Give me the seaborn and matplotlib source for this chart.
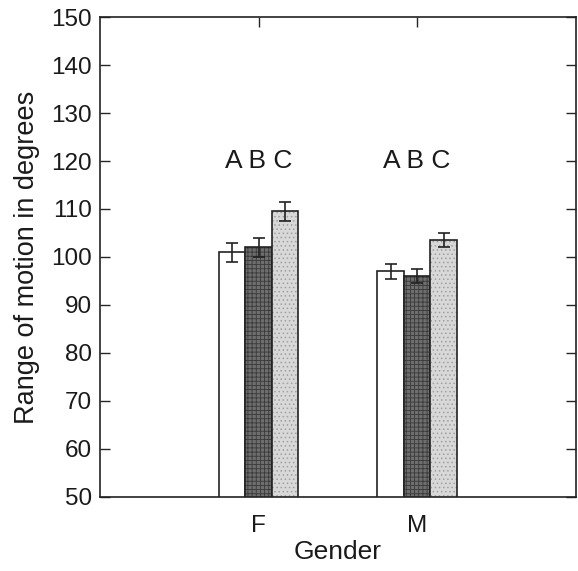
import pandas as pd
import matplotlib
matplotlib.use("Agg")
import matplotlib.pyplot as plt
import seaborn as sns

# ------------------------------
# Data
# ------------------------------
genders = ["F", "M"]
groups = ["A", "B", "C"]
f_means = [101.0, 102.0, 109.5]
m_means = [97.0, 96.0, 103.5]
f_err = [2.0, 2.0, 2.0]
m_err = [1.5, 1.5, 1.5]

df = pd.DataFrame({
    "gender": genders[0:1] * 3 + genders[1:2] * 3,
    "group": groups * 2,
    "value": f_means + m_means,
    "err": f_err + m_err,
})

sns.set_theme(style="ticks")
plt.rcParams["font.family"] = ["Liberation Sans", "DejaVu Sans"]
plt.rcParams["hatch.linewidth"] = 0.6

fig = plt.figure(figsize=(5.78, 5.71), dpi=100)
ax = fig.add_axes([0.173, 0.130, 0.823, 0.840])

face = {"A": "#ffffff", "B": "#6e6e6e", "C": "#d8d8d8"}
hatch = {"A": "", "B": "++++", "C": "...."}
hatch_col = {"A": "#333333", "B": "#3a3a3a", "C": "#a0a0a0"}

sns.barplot(data=df, x="gender", y="value", hue="group", order=genders,
            hue_order=groups, palette=face, width=0.5, gap=0,
            edgecolor="#222222", linewidth=1.2, legend=False, ax=ax)

# containers come in hue order -> apply texture and error bars
for grp, cont in zip(groups, ax.containers):
    sub = df[df["group"] == grp].set_index("gender").loc[genders]
    for bar in cont:
        bar.set_hatch(hatch[grp])
        bar._hatch_color = matplotlib.colors.to_rgba(hatch_col[grp])
    xs = [b.get_x() + b.get_width() / 2 for b in cont]
    ax.errorbar(xs, sub["value"], yerr=sub["err"], fmt="none",
                ecolor="#222222", elinewidth=1.2, capsize=4, capthick=1.2)

# group letters above the bars
for i, g in enumerate(genders):
    ax.text(i, 120, "A B C", ha="center", va="center", fontsize=19,
            color="#1a1a1a")

ax.set_ylim(50, 150)
ax.set_xlim(-1, 2)
ax.set_yticks(range(50, 151, 10))
ax.set_xticks([0, 1])
ax.set_xticklabels(genders)
ax.set_ylabel("Range of motion in degrees", fontsize=19.5, labelpad=8,
              color="#1a1a1a")
ax.set_xlabel("Gender", fontsize=19, labelpad=2, color="#1a1a1a")
ax.tick_params(axis="y", direction="in", length=7, labelsize=17.5, right=True,
               width=1, pad=6, labelcolor="#1a1a1a")
ax.tick_params(axis="x", direction="in", length=7, labelsize=17.5, top=True,
               bottom=False, width=1, pad=13, labelcolor="#1a1a1a")
for s in ax.spines.values():
    s.set_visible(True)
    s.set_linewidth(1.2)
    s.set_color("#222222")

fig.savefig("out.png", dpi=100)
